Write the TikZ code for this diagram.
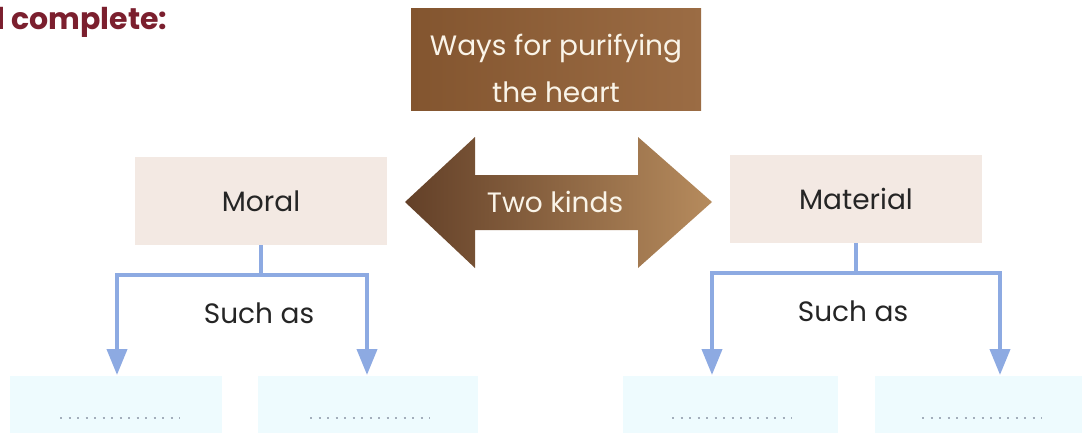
\documentclass[tikz,border=0pt]{standalone}
\usepackage{fontspec}
\setmainfont{Poppins}
\usetikzlibrary{arrows.meta}
\definecolor{maroon}{HTML}{7B1F2E}
\definecolor{brownA}{HTML}{83552F}
\definecolor{brownB}{HTML}{9B6C44}
\definecolor{arrA}{HTML}{634028}
\definecolor{arrB}{HTML}{B68B5D}
\definecolor{cream}{HTML}{FAF4E8}
\definecolor{pinkbox}{HTML}{F3E9E3}
\definecolor{cyanbox}{HTML}{EEFBFE}
\definecolor{connblue}{HTML}{8DAAE2}
\definecolor{dotgrey}{HTML}{A3AEBB}
\definecolor{txt}{HTML}{252525}
\tikzset{
  kindbox/.style={fill=pinkbox, minimum width=252pt, minimum height=88pt, inner sep=0pt, text=txt, font=\fontsize{28}{32}\selectfont},
  blankbox/.style={fill=cyanbox, minimum height=57pt, inner sep=0pt},
  conn/.style={connblue, line width=4pt},
  arr/.style={connblue, line width=4pt, -{Triangle[width=20pt,length=26pt]}},
  dots/.style={dotgrey, line width=2pt, dash pattern=on 2pt off 6.5pt},
  lbl/.style={text=txt, font=\fontsize{28}{32}\selectfont},
  lighttxt/.style={text=cream, font=\fontsize{28}{32}\selectfont, inner sep=0pt}
}
\begin{document}
\begin{tikzpicture}[x=1pt,y=-1pt]
\useasboundingbox (0,0) rectangle (1082,432);
% heading
\node[anchor=base west, text=maroon, font=\fontsize{30}{34}\selectfont\bfseries, inner sep=0pt] (head) at (-4,29) {l complete:};
% title box
\shade[left color=brownA, right color=brownB] (411,8) rectangle (701,110);
\node[lighttxt, anchor=base] (title1) at (556,55) {Ways for purifying};
\node[lighttxt, anchor=base] (title2) at (556,102) {the heart};
% double arrow
\shade[left color=arrA, right color=arrB] (405,202) -- (475,137) -- (475,175) -- (638,175) -- (638,137) -- (712,202) -- (638,268) -- (638,230) -- (475,230) -- (475,268) -- cycle;
\node[lighttxt] (two) at (555,202) {Two kinds};
% kind boxes
\node[kindbox] (moral) at (261,201) {Moral};
\node[kindbox] (material) at (856,199) {Material};
% blank boxes
\node[blankbox, minimum width=212pt] (b1) at (116,404) {};
\node[blankbox, minimum width=220pt] (b2) at (368,404) {};
\node[blankbox, minimum width=215pt] (b3) at (730.5,404) {};
\node[blankbox, minimum width=207pt] (b4) at (978.5,404) {};
\draw[dots] (60,418) -- (180,418);
\draw[dots] (310,418) -- (430,418);
\draw[dots] (672,418) -- (792,418);
\draw[dots] (922,418) -- (1042,418);
% connectors left
\coordinate (lj) at (261,275);
\coordinate (l1) at (117,375);
\coordinate (l2) at (367,375);
\draw[conn] (moral.south) -- (lj);
\draw[arr] (lj) -| (l1);
\draw[arr] (lj) -| (l2);
\node[lbl] (such1) at (259,313) {Such as};
% connectors right
\coordinate (rj) at (856,273);
\coordinate (r1) at (712,375);
\coordinate (r2) at (1000,375);
\draw[conn] (material.south) -- (rj);
\draw[arr] (rj) -| (r1);
\draw[arr] (rj) -| (r2);
\node[lbl] (such2) at (853,311) {Such as};
\end{tikzpicture}
\end{document}
